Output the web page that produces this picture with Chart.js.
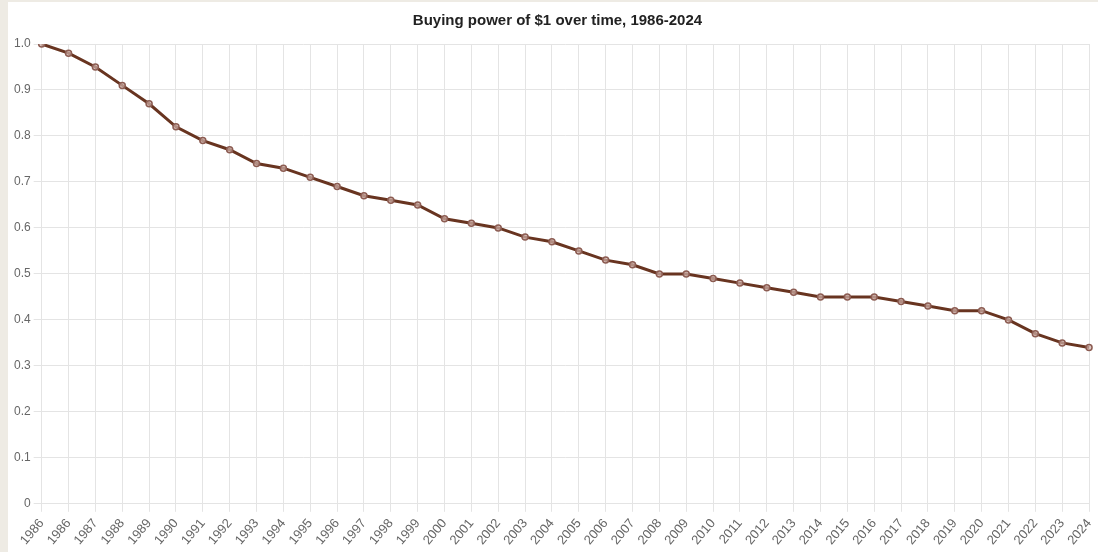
<!DOCTYPE html>
<html>
<head>
<meta charset="utf-8">
<script src="https://cdn.jsdelivr.net/npm/chart.js@4"></script>
<style>
  html, body { margin: 0; padding: 0; background: #eeebe4; overflow: hidden; }
  #wrap { position: absolute; left: 8px; top: 2px; width: 1097px; height: 550px; background: #fff; }
</style>
</head>
<body>
<div id="wrap"><canvas id="chartResult"></canvas></div>
<script>
// years on x axis (1986 appears twice in the source)
var years = ['1986','1986','1987','1988','1989','1990','1991','1992','1993','1994',
  '1995','1996','1997','1998','1999','2000','2001','2002','2003','2004',
  '2005','2006','2007','2008','2009','2010','2011','2012','2013','2014',
  '2015','2016','2017','2018','2019','2020','2021','2022','2023','2024'];

// value of one 1986 dollar
var buyingPower = [1.0,0.98,0.95,0.91,0.87,0.82,0.79,0.77,0.74,0.73,
  0.71,0.69,0.67,0.66,0.65,0.62,0.61,0.60,0.58,0.57,
  0.55,0.53,0.52,0.50,0.50,0.49,0.48,0.47,0.46,0.45,
  0.45,0.45,0.44,0.43,0.42,0.42,0.40,0.37,0.35,0.34];

var yTicks = [0,0.1,0.2,0.3,0.4,0.5,0.6,0.7,0.8,0.9,1.0];

var canvasShow = document.getElementById('chartResult');

var mainChart = new Chart(canvasShow, {
    type: 'line',
    data: {
        labels: years,
        datasets: [{
            label: 'Buying power',
            data: buyingPower,
            borderColor: 'rgb(104, 52, 32)',
            borderWidth: 3,
            pointRadius: 3,
            pointBorderWidth: 1.5,
            pointBorderColor: 'rgb(140, 92, 82)',
            pointBackgroundColor: 'rgba(210, 180, 172, 0.7)',
            tension: 0
        }]
    },
    options: {
        responsive: true,
        maintainAspectRatio: false,
        animation: false,
        layout: { padding: { right: 1, left: 3, top: 0, bottom: 0 } },
        plugins: {
            legend: { display: false },
            tooltip: { enabled: false },
            title: {
                display: true,
                text: 'Buying power of $1 over time, 1986-2024',
                color: '#222',
                font: { family: 'Liberation Sans, Arial, sans-serif', size: 15, weight: 'bold' },
                padding: { top: 10, bottom: 14 }
            }
        },
        scales: {
            x: {
                grid: { color: '#e4e4e4' },
                border: { color: '#e4e4e4' },
                ticks: {
                    color: '#666',
                    font: { family: 'Liberation Sans, Arial, sans-serif', size: 13 },
                    maxRotation: 50,
                    minRotation: 50,
                    padding: 4,
                    autoSkip: false
                }
            },
            y: {
                min: 0,
                max: 1,
                grid: { color: '#e4e4e4' },
                border: { display: false },
                afterBuildTicks: function (axis) {
                    axis.ticks = yTicks.map(function (v) { return { value: v }; });
                },
                ticks: {
                    color: '#666',
                    font: { family: 'Liberation Sans, Arial, sans-serif', size: 12 },
                    callback: function (v) { return v === 0 ? '0' : v.toFixed(1); }
                }
            }
        }
    }
});
</script>
</body>
</html>
